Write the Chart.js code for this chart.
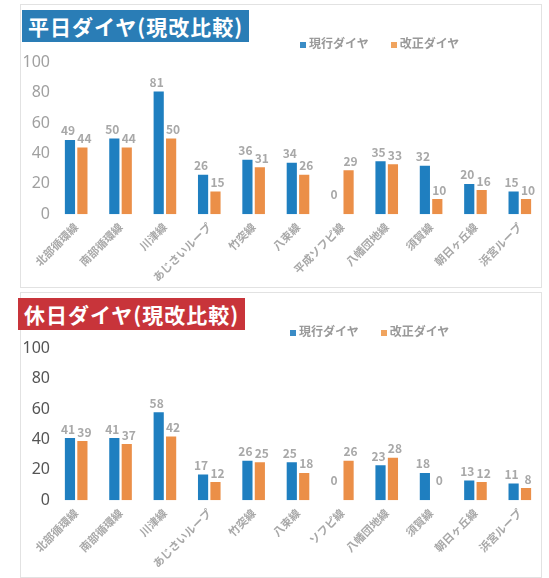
<!DOCTYPE html>
<html>
<head>
<meta charset="utf-8">
<script src="https://cdn.jsdelivr.net/npm/chart.js@4"></script>
<style>
  body { margin: 0; background: #fff; font-family: "Noto Sans CJK JP", sans-serif; }
  .panel { position: absolute; left: 20px; width: 520px; border: 1px solid #e2e2e2; background: #fff; }
  .title { position: absolute; color: #fff; font-size: 21px; font-weight: bold; padding: 0 6px; line-height: 32px; letter-spacing: 1px; }
  .legend { position: absolute; font-size: 12px; color: #999; font-weight: bold; }
  .legend span { display: inline-block; width: 6px; height: 6px; margin-right: 3px; vertical-align: middle; }
  .box { position: absolute; }
</style>
</head>
<body>
<div class="panel" style="top:4px;height:282px;"></div>
<div class="panel" style="top:292px;height:284px;"></div>

<div class="box" style="left:20px;top:49px;width:522px;height:241px;"><canvas id="weekday"></canvas></div>
<div class="box" style="left:20px;top:335px;width:522px;height:241px;"><canvas id="holiday"></canvas></div>

<div class="title" style="left:22px;top:10px;background:#2a7db6;">平日ダイヤ(現改比較)</div>
<div class="legend" style="left:300px;top:34px;"><span style="background:#3a8cc6"></span>現行ダイヤ<span style="background:#f0a45f;margin-left:22px"></span>改正ダイヤ</div>

<div class="title" style="left:18px;top:298px;background:#c8343a;">休日ダイヤ(現改比較)</div>
<div class="legend" style="left:290px;top:322px;"><span style="background:#3a8cc6"></span>現行ダイヤ<span style="background:#f0a45f;margin-left:22px"></span>改正ダイヤ</div>

<script>
// route names (x axis)
var routes = ["北部循環線", "南部循環線", "川津線", "あじさいループ", "竹突線", "八束線",
  "平成ソフピ線", "八幡団地線", "須賀線", "朝日ヶ丘線", "浜宮ループ"];
var routesHoliday = ["北部循環線", "南部循環線", "川津線", "あじさいループ", "竹突線", "八束線",
  "ソフピ線", "八幡団地線", "須賀線", "朝日ヶ丘線", "浜宮ループ"];

// weekday
var weekdayCurrent = [49, 50, 81, 26, 36, 34, 0, 35, 32, 20, 15];
var weekdayRevised = [44, 44, 50, 15, 31, 26, 29, 33, 10, 16, 10];

// holiday
var holidayCurrent = [41, 41, 58, 17, 26, 25, 0, 23, 18, 13, 11];
var holidayRevised = [39, 37, 42, 12, 25, 18, 26, 28, 0, 12, 8];

var yTicks = [0, 20, 40, 60, 80, 100];

// draws the numbers above each bar
var valueLabels = {
  id: "valueLabels",
  afterDatasetsDraw: function (chart) {
    var ctx = chart.ctx;
    ctx.save();
    ctx.font = "bold 12px 'Noto Sans CJK JP', sans-serif";
    ctx.textAlign = "center";
    ctx.textBaseline = "bottom";
    chart.data.datasets.forEach(function (ds, i) {
      var meta = chart.getDatasetMeta(i);
      meta.data.forEach(function (bar, j) {
        ctx.fillStyle = "#a8a8a8";
        var v = ds.data[j];
        var y = v === 0 ? bar.y - 14 : bar.y - 3;
        ctx.fillText(v, bar.x + (i === 0 ? -2 : 2), y);
      });
    });
    ctx.restore();
  }
};

function makeChart(id, labels, current, revised, tickColor) {
  return new Chart(document.getElementById(id), {
    type: "bar",
    data: {
      labels: labels,
      datasets: [
        { label: "現行ダイヤ", data: current, backgroundColor: "#1f7fc0", barPercentage: 0.82, categoryPercentage: 0.56 },
        { label: "改正ダイヤ", data: revised, backgroundColor: "#eb8f48", barPercentage: 0.82, categoryPercentage: 0.56 }
      ]
    },
    options: {
      responsive: true,
      maintainAspectRatio: false,
      animation: false,
      layout: { padding: 0 },
      plugins: { legend: { display: false }, tooltip: { enabled: false } },
      scales: {
        x: {
          grid: { display: false, drawTicks: false },
          border: { display: false },
          // let the first rotated label run under the y axis like the original
          afterFit: function (scale) { scale.paddingLeft = 0; },
          ticks: {
            minRotation: 45, maxRotation: 45,
            padding: 6,
            color: "#a8a8a8",
            font: { size: 11, weight: "bold", family: "'Noto Sans CJK JP', sans-serif" }
          }
        },
        y: {
          min: 0, max: 100,
          afterBuildTicks: function (axis) {
            axis.ticks = yTicks.map(function (v) { return { value: v }; });
          },
          afterFit: function (scale) { scale.width = 34; },
          grid: { display: false, drawTicks: false },
          border: { display: false },
          ticks: {
            color: tickColor,
            padding: 4,
            font: { size: 16, family: "'Noto Sans', sans-serif" }
          }
        }
      }
    },
    plugins: [valueLabels]
  });
}

makeChart("weekday", routes, weekdayCurrent, weekdayRevised, "#a0a0a0");
makeChart("holiday", routesHoliday, holidayCurrent, holidayRevised, "#555555");
</script>
</body>
</html>
